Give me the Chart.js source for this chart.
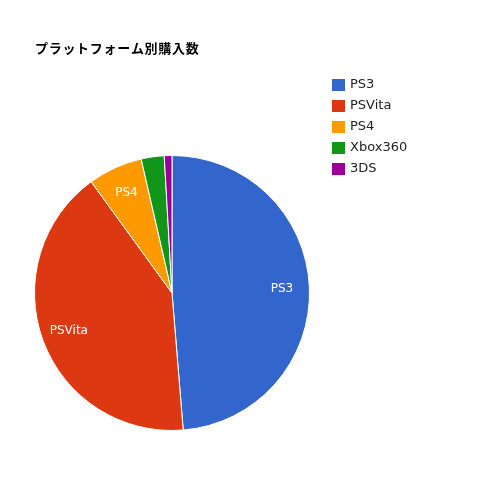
<!DOCTYPE html>
<html>
<head>
<meta charset="utf-8">
<script src="https://cdn.jsdelivr.net/npm/chart.js@4/dist/chart.umd.min.js"></script>
<style>
  html, body { margin: 0; padding: 0; background: #fff; }
  #wrap { width: 500px; height: 500px; position: relative; }
</style>
</head>
<body>
<div id="wrap"><canvas id="pie"></canvas></div>
<script>
// Chart data
const titleText = 'プラットフォーム別購入数';
const platforms = ['PS3', 'PSVita', 'PS4', 'Xbox360', '3DS'];
const purchases = [48.7, 41.3, 6.4, 2.7, 0.9];
const sliceColors = ['#3366cc', '#dc3912', '#ff9900', '#109618', '#990099'];

const FONT = "'DejaVu Sans', 'Noto Sans CJK JP', sans-serif";

// Title, legend and in-slice labels drawn after the pie
const decorPlugin = {
    id: 'decor',
    afterDraw(chart) {
        const ctx = chart.ctx;
        ctx.save();

        // title
        ctx.fillStyle = '#000';
        ctx.font = 'bold 13px ' + FONT;
        ctx.textAlign = 'left';
        ctx.textBaseline = 'middle';
        ctx.letterSpacing = '0.7px';
        ctx.fillText(titleText, 35, 50);
        ctx.letterSpacing = '0px';

        // legend
        ctx.font = '13px ' + FONT;
        platforms.forEach((name, i) => {
            const y = 85 + i * 21;
            ctx.fillStyle = sliceColors[i];
            ctx.fillRect(332, y - 6, 13, 12);
            ctx.fillStyle = '#222';
            ctx.fillText(name, 350, y);
        });

        // slice labels
        const meta = chart.getDatasetMeta(0);
        ctx.font = '12px ' + FONT;
        ctx.fillStyle = '#fff';
        ctx.textAlign = 'center';
        meta.data.forEach((arc, i) => {
            const p = arc.getProps(['x', 'y', 'startAngle', 'endAngle', 'outerRadius'], true);
            if (p.endAngle - p.startAngle < 0.3) return;
            const mid = (p.startAngle + p.endAngle) / 2;
            const r = p.outerRadius * 0.8;
            ctx.fillText(platforms[i], p.x + Math.cos(mid) * r, p.y + Math.sin(mid) * r);
        });

        ctx.restore();
    }
};

new Chart(document.getElementById('pie'), {
    type: 'pie',
    data: {
        labels: platforms,
        datasets: [{
            data: purchases,
            backgroundColor: sliceColors,
            borderColor: '#ffffff',
            borderWidth: 1
        }]
    },
    options: {
        responsive: true,
        maintainAspectRatio: false,
        animation: false,
        layout: {
            padding: { left: 34, top: 155, right: 190, bottom: 69 }
        },
        plugins: {
            legend: { display: false },
            title: { display: false },
            tooltip: { enabled: false }
        }
    },
    plugins: [decorPlugin]
});
</script>
</body>
</html>
